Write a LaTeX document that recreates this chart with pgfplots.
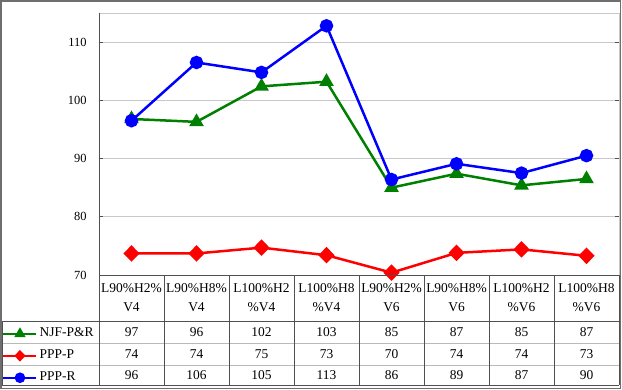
\documentclass[border=0pt]{standalone}
\usepackage{fontspec}
\setmainfont{Liberation Serif}
\usepackage{pgfplots}
\pgfplotsset{compat=1.18}
\definecolor{xgreen}{RGB}{0,128,0}
\definecolor{xred}{RGB}{255,0,0}
\definecolor{xblue}{RGB}{0,0,255}
\definecolor{framegray}{RGB}{110,110,110}
\definecolor{gridgray}{RGB}{200,200,200}
\definecolor{tablegray}{RGB}{80,80,80}
\definecolor{rowgray}{RGB}{185,185,185}
\begin{document}
\begin{tikzpicture}[x=1bp,y=1bp]
\useasboundingbox (0,0) rectangle (622,389);
\draw[framegray, line width=1.5bp] (0.75,0.75) rectangle (620.5,388);
\begin{axis}[
  at={(99bp,114bp)}, anchor=south west,
  scale only axis, width=520bp, height=262bp,
  xmin=-0.5, xmax=7.5, ymin=70, ymax=115,
  clip=false,
  xtick=data,
  xticklabels={{L90\%H2\%\\V4},{L90\%H8\%\\V4},{L100\%H2\\\%V4},{L100\%H8\\\%V4},{L90\%H2\%\\V6},{L90\%H8\%\\V6},{L100\%H2\\\%V6},{L100\%H8\\\%V6}},
  xticklabel style={font=\fontsize{13.5}{19}\selectfont, align=center, anchor=center, yshift=-23bp},
  xtick style={draw=none},
  ytick={70,80,90,100,110},
  yticklabel style={font=\fontsize{12.5}{14}\selectfont, xshift=-9bp},
  /pgf/number format/assume math mode=true,
  tick align=inside, major tick length=4bp,
  ytick style={tablegray, line width=0.8bp},
  ymajorgrids, major grid style={gridgray, line width=0.8bp},
  axis line style={gridgray, line width=0.8bp},
  legend style={at={(-0.1865,-0.1815)}, anchor=north west, draw=none, fill=none,
    inner sep=0pt, row sep=0pt, font=\fontsize{13.5}{16}\selectfont,
    nodes={inner sep=0pt, text height=14bp, text depth=8bp},
    cells={anchor=west},
    /tikz/every odd column/.append style={column sep=2bp}},
  legend image code/.code={\draw[mark repeat=2,mark phase=2,#1] plot coordinates {(0bp,0bp) (16.5bp,0bp) (33bp,0bp)};},
  legend image post style={mark size=4bp},
]
\addplot[xgreen, line width=2.5bp, mark=triangle*, mark size=6bp, mark options={solid}]
  coordinates {(0,96.8) (1,96.3) (2,102.4) (3,103.2) (4,85.0) (5,87.4) (6,85.4) (7,86.5)};
\addlegendentry{NJF-P\&R}
\addplot[xred, line width=2.5bp, mark=diamond*, mark size=6.5bp, mark options={solid, xscale=1.3}]
  coordinates {(0,73.7) (1,73.7) (2,74.7) (3,73.4) (4,70.4) (5,73.8) (6,74.4) (7,73.3)};
\addlegendentry{PPP-P}
\addplot[xblue, line width=2.5bp, mark=*, mark size=5.5bp, mark options={solid}]
  coordinates {(0,96.5) (1,106.5) (2,104.8) (3,112.8) (4,86.4) (5,89.1) (6,87.5) (7,90.5)};
\addlegendentry{PPP-R}
\end{axis}
% table grid
\draw[tablegray, line width=0.9bp] (99,376) -- (99,114);
\draw[tablegray, line width=0.9bp] (99,114) -- (619,114);
\draw[tablegray, line width=0.9bp] (2,68) -- (619,68);
\draw[rowgray, line width=0.9bp] (2,46) -- (619,46);
\draw[rowgray, line width=0.9bp] (2,24) -- (619,24);
\draw[tablegray, line width=0.9bp] (2,4) -- (619,4);
\draw[tablegray, line width=0.9bp] (2,4) -- (2,68);
\foreach \k in {0,...,8} \draw[tablegray, line width=0.9bp] (99+65*\k,4) -- (99+65*\k,114);
% table values
\foreach \v [count=\i from 0] in {97,96,102,103,85,87,85,87}
  \node[font=\fontsize{13.5}{16}\selectfont] at (131.5+65*\i,57) {\v};
\foreach \v [count=\i from 0] in {74,74,75,73,70,74,74,73}
  \node[font=\fontsize{13.5}{16}\selectfont] at (131.5+65*\i,35) {\v};
\foreach \v [count=\i from 0] in {96,106,105,113,86,89,87,90}
  \node[font=\fontsize{13.5}{16}\selectfont] at (131.5+65*\i,14) {\v};
\end{tikzpicture}
\end{document}
